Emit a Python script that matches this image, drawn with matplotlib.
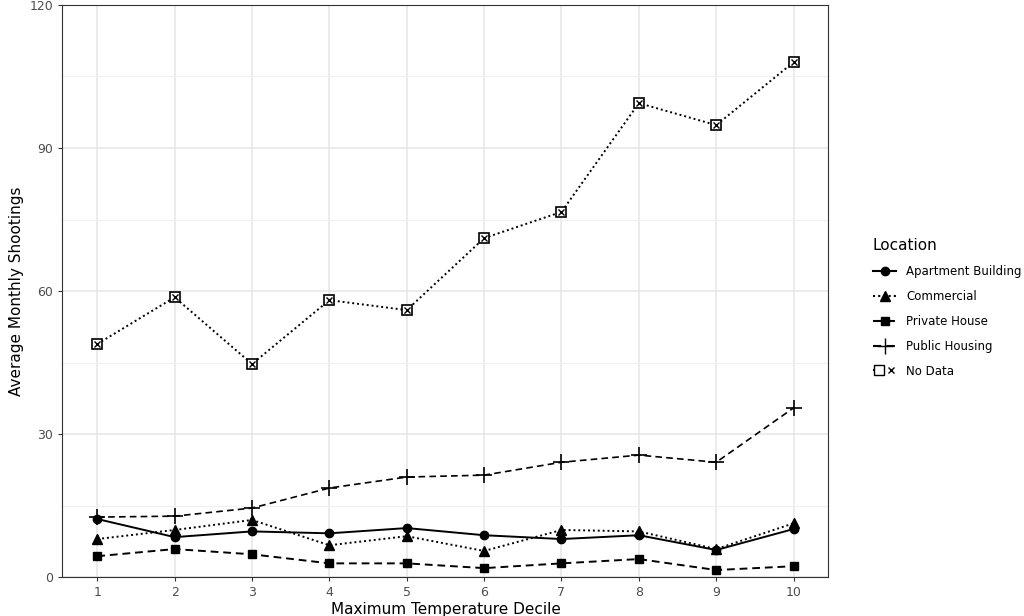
import matplotlib
matplotlib.use("Agg")
import matplotlib.pyplot as plt
from matplotlib.lines import Line2D
from matplotlib.legend_handler import HandlerTuple

deciles = list(range(1, 11))
apartment = [12.2, 8.4, 9.6, 9.2, 10.3, 8.8, 8.0, 8.8, 5.7, 10.1]
commercial = [8.0, 9.9, 12.0, 6.7, 8.6, 5.5, 9.9, 9.6, 5.9, 11.3]
private_house = [4.4, 5.9, 4.8, 2.9, 2.9, 1.9, 2.9, 3.8, 1.5, 2.3]
public_housing = [12.6, 12.8, 14.5, 18.7, 21.0, 21.4, 24.1, 25.6, 24.1, 35.5]
no_data = [48.9, 58.7, 44.7, 58.1, 56.0, 71.1, 76.6, 99.4, 94.8, 108.0]

fig = plt.figure(figsize=(10.24, 6.16), dpi=100)
ax = fig.add_axes([0.061, 0.063, 0.748, 0.929])

ax.plot(deciles, apartment, color="black", lw=1.4, ls="-", marker="o", ms=6)
ax.plot(deciles, commercial, color="black", lw=1.4, ls=(0, (1, 1.5)), marker="^", ms=7)
ax.plot(deciles, private_house, color="black", lw=1.4, ls=(0, (4, 2.5)), marker="s", ms=6)
ax.plot(deciles, public_housing, color="black", lw=1.2, ls=(0, (4, 2.5)), marker="+", ms=12, mew=1.2)
ax.plot(deciles, no_data, color="black", lw=1.4, ls=(0, (1, 1.5)), marker="s", ms=7,
        mfc="white", mec="black", mew=1.2)
ax.plot(deciles, no_data, ls="none", marker="x", ms=5, color="black", mew=1)

ax.set_xlim(0.55, 10.45)
ax.set_ylim(0, 120)
ax.set_xticks(deciles)
ax.set_yticks([0, 30, 60, 90, 120])
ax.set_yticks([15, 45, 75, 105], minor=True)
ax.grid(True, which="major", color="#e5e5e5", lw=1.1)
ax.grid(True, which="minor", axis="y", color="#f0f0f0", lw=0.8)
ax.set_axisbelow(True)
for s in ax.spines.values():
    s.set_color("#333333")
ax.tick_params(which="minor", length=0)
ax.tick_params(which="major", colors="#333333", labelcolor="#4d4d4d", labelsize=9, length=3)
ax.set_xlabel("Maximum Temperature Decile", fontsize=11, labelpad=2)
ax.set_ylabel("Average Monthly Shootings", fontsize=11)

h = [
    Line2D([], [], color="black", ls="-", marker="o", ms=6),
    Line2D([], [], color="black", ls=(0, (1, 1.5)), marker="^", ms=7),
    Line2D([], [], color="black", ls=(0, (4, 2.5)), marker="s", ms=6),
    Line2D([], [], color="black", ls=(0, (4, 2.5)), marker="+", ms=12),
    (Line2D([], [], color="black", ls=(0, (1, 1.5)), marker="s", ms=7, mfc="white"),
     Line2D([], [], ls="none", marker="x", ms=5, color="black")),
]
labels = ["Apartment Building", "Commercial", "Private House", "Public Housing", "No Data"]
leg = fig.legend(h, labels, title="Location", loc="center left", bbox_to_anchor=(0.842, 0.5),
                 frameon=False, fontsize=8.5, title_fontsize=11, handlelength=2,
                 handler_map={tuple: HandlerTuple(ndivide=None, pad=0)}, labelspacing=1.0)
leg._legend_box.align = "left"

fig.savefig("out.png", dpi=100)
